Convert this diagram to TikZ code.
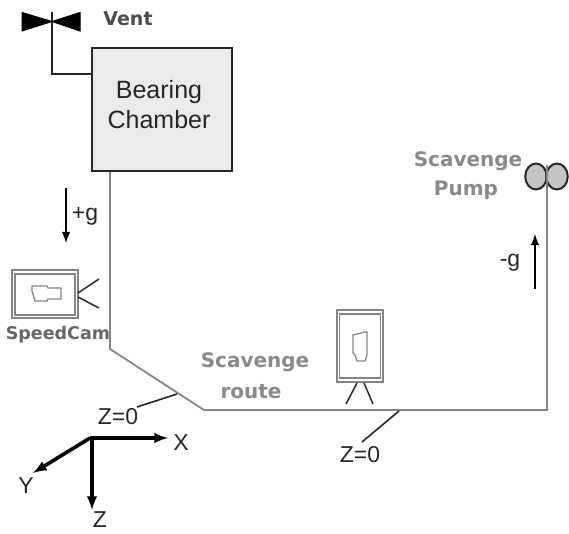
\documentclass[tikz,border=0pt]{standalone}
\usepackage{fontspec}
\setmainfont{Liberation Sans}
\newfontfamily\labelfont{DejaVu Sans}
\usetikzlibrary{arrows}
\usetikzlibrary{shapes.geometric}
\definecolor{routegray}{HTML}{858585}
\definecolor{labelgray}{HTML}{8A8A8A}
\definecolor{boxgray}{HTML}{EBEBEB}
\definecolor{pumpgray}{HTML}{C4C4C4}
\tikzset{arrow/.style={-latex, line width=2.8pt}}
\tikzset{axis/.style={-latex, line width=3.6pt}}
\tikzset{route/.style={routegray, line width=1.8pt}}
\tikzset{stub/.style={black!85, line width=1.6pt}}
\tikzset{camera/.style={routegray, line width=1.7pt}}
\tikzset{plain/.style={inner sep=0pt, text=black!85, font=\fontsize{23}{26}\selectfont}}
\tikzset{boldgray/.style={inner sep=0pt, text=labelgray, font=\labelfont\bfseries\fontsize{20}{24}\selectfont}}
\tikzset{pump/.style={ellipse, draw=black!85, fill=pumpgray, line width=2pt, inner sep=0pt, minimum width=21.5pt, minimum height=26pt}}

\begin{document}
\begin{tikzpicture}[x=1pt,y=-1pt]
        \useasboundingbox (0,0) rectangle (569,533);

        % chamber and vent
        \node[draw=black!85, fill=boxgray, line width=1.8pt, minimum width=140pt, minimum height=123pt, inner sep=0pt] (chamber) at (162,109.5) {};
        \node[inner sep=0pt, align=center, font=\fontsize{25}{30}\selectfont, text=black!85] (chamberText) at (159,105) {Bearing\\Chamber};
        \coordinate (ventTop) at (52,12);
        \coordinate (ventCorner) at (52,74);
        \draw[black!85, line width=1.6pt] (ventTop) -- (ventCorner) -- (ventCorner -| chamber.west);
        \filldraw[black, line width=1pt] (22,12.5) -- (22,31) -- (52,21.5) -- (80,12.5) -- (80,31) -- (52,21.5) -- cycle;
        \node[inner sep=0pt, text=black!70, font=\labelfont\bfseries\fontsize{19}{23}\selectfont] (vent) at (128,19) {Vent};

        % scavenge route
        \coordinate (routeA) at (110,172);
        \coordinate (routeB) at (110,349);
        \coordinate (routeC) at (204,410);
        \coordinate (routeD) at (547,410);
        \coordinate (routeE) at (547,165);
        \node[pump] (pumpL) at (536,176.5) {};
        \node[pump] (pumpR) at (557,176.5) {};
        \draw[route] (routeA) -- (routeB) -- (routeC) -- (routeD) -- (routeE);
        \node[boldgray] (pumpOne) at (468,161) {Scavenge};
        \node[boldgray] (pumpTwo) at (466,190) {Pump};
        \node[boldgray] (routeOne) at (255,362) {Scavenge};
        \node[boldgray] (routeTwo) at (251,392) {route};

        % gravity
        \coordinate (plusTop) at (66,188);
        \coordinate (plusEnd) at (66,243);
        \draw[arrow] (plusTop) -- (plusEnd);
        \node[plain] (plusG) at (85,216) {+g};
        \coordinate (minusTop) at (535,289);
        \coordinate (minusEnd) at (535,234);
        \draw[arrow] (minusTop) -- (minusEnd);
        \node[plain] (minusG) at (510,263) {-g};

        % speedcam
        \draw[camera] (12,270) rectangle (78,318);
        \draw[camera] (15,274) rectangle (75,315);
        \draw[camera, line width=1.3pt] (32,286) -- (47,286) -- (48,288) -- (61,288) -- (61,299) -- (48,299) -- (47,301) -- (35,301) -- (32,291) -- cycle;
        \draw[black!85, line width=1.5pt] (99,279) -- (78,293);
        \draw[black!85, line width=1.5pt] (78,297) -- (99,308);
        \node[inner sep=0pt, text=black!60, font=\labelfont\bfseries\fontsize{17.5}{21}\selectfont] (speedCam) at (58,335) {SpeedCam};

        % tripod camera
        \draw[camera] (337,310) rectangle (383,382);
        \draw[camera] (339.5,314) rectangle (380.5,378);
        \draw[camera, line width=1.3pt] (353,335) -- (365,332) -- (367,332) -- (367,355) -- (365,361) -- (357,361) -- (355,355) -- (353,353) -- cycle;
        \draw[black!85, line width=1.5pt] (357,383) -- (346,404);
        \draw[black!85, line width=1.5pt] (364,383) -- (373,404);

        % z markers
        \coordinate (stubA) at (177,394);
        \node[plain] (zeroA) at (118,417) {Z=0};
        \draw[stub] (stubA) -- (137,407);
        \coordinate (stubB) at (399,411);
        \node[plain] (zeroB) at (360,455) {Z=0};
        \draw[stub] (stubB) -- (362,442);

        % axes
        \coordinate (origin) at (90,438);
        \coordinate (axisX) at (168,438);
        \coordinate (axisY) at (33,473);
        \coordinate (axisZ) at (92,510);
        \draw[axis] (origin) -- (axisX);
        \draw[axis] (origin) -- (axisY);
        \draw[axis] (origin -| axisZ) -- (axisZ);
        \node[plain] (labelX) at (181,443) {X};
        \node[plain] (labelY) at (26,486) {Y};
        \node[plain] (labelZ) at (100,520) {Z};
\end{tikzpicture}
\end{document}
